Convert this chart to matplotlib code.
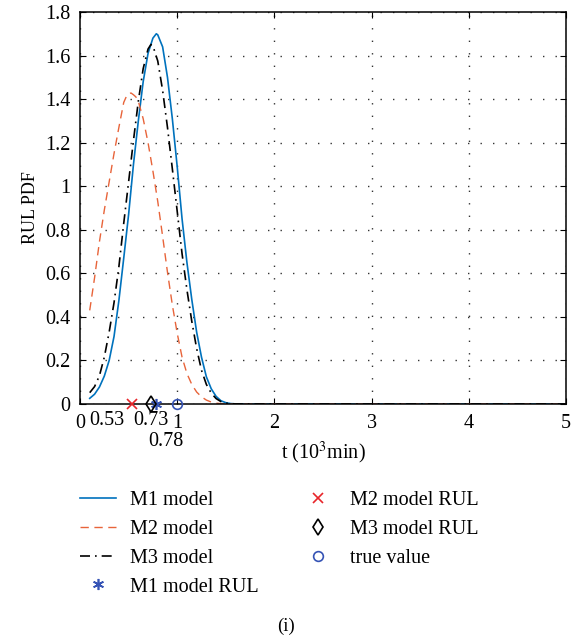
import matplotlib
matplotlib.use("Agg")
import matplotlib.pyplot as plt
import matplotlib.transforms as mtransforms

plt.rcParams['font.family'] = ['Liberation Serif', 'DejaVu Serif']
plt.rcParams['mathtext.fontset'] = 'stix'

# ---- data ----
t_m1 = [0.10, 0.15, 0.20, 0.25, 0.30, 0.35, 0.40, 0.45, 0.50, 0.55, 0.60, 0.65, 0.70, 0.75, 0.785,
        0.80, 0.85, 0.90, 0.95, 1.00, 1.05, 1.10, 1.15, 1.20, 1.25, 1.30, 1.35, 1.40, 1.45, 1.50,
        1.55, 1.60, 1.70, 5.00]
pdf_m1 = [0.026, 0.045, 0.078, 0.128, 0.20, 0.31, 0.475, 0.67, 0.87, 1.10, 1.30, 1.48, 1.61, 1.68, 1.70,
          1.695, 1.64, 1.50, 1.31, 1.09, 0.85, 0.65, 0.48, 0.33, 0.215, 0.125, 0.07, 0.035, 0.015, 0.006,
          0.002, 0.0005, 0.0, 0.0]

t_m2 = [0.10, 0.15, 0.20, 0.25, 0.30, 0.35, 0.40, 0.45, 0.475, 0.50, 0.525, 0.55, 0.575, 0.60, 0.65,
        0.70, 0.75, 0.80, 0.85, 0.90, 0.95, 1.00, 1.05, 1.10, 1.15, 1.20, 1.25, 1.30, 1.35, 1.40,
        1.45, 1.50, 1.60, 5.00]
pdf_m2 = [0.43, 0.58, 0.745, 0.89, 1.02, 1.15, 1.27, 1.385, 1.41, 1.425, 1.428, 1.42, 1.41, 1.39, 1.31,
          1.20, 1.07, 0.93, 0.77, 0.605, 0.455, 0.325, 0.215, 0.14, 0.09, 0.055, 0.033, 0.018, 0.009, 0.004,
          0.0015, 0.0005, 0.0, 0.0]

t_m3 = [0.10, 0.15, 0.20, 0.25, 0.30, 0.35, 0.40, 0.45, 0.50, 0.55, 0.60, 0.65, 0.70, 0.73, 0.75,
        0.80, 0.85, 0.90, 0.95, 1.00, 1.05, 1.10, 1.15, 1.20, 1.25, 1.30, 1.35, 1.40, 1.45, 1.50,
        1.55, 1.60, 1.70, 5.00]
pdf_m3 = [0.052, 0.08, 0.13, 0.215, 0.33, 0.465, 0.63, 0.83, 1.02, 1.21, 1.39, 1.54, 1.63, 1.651, 1.645,
          1.575, 1.44, 1.27, 1.08, 0.885, 0.69, 0.525, 0.38, 0.255, 0.155, 0.09, 0.05, 0.025, 0.011, 0.004,
          0.0015, 0.0004, 0.0, 0.0]

rul_m1 = 0.78
rul_m2 = 0.53
rul_m3 = 0.73
rul_true = 1.0

x_ticks = [0, 1, 2, 3, 4, 5]
x_tick_labels = ['0', '1', '2', '3', '4', '5']
y_ticks = [0, 0.2, 0.4, 0.6, 0.8, 1.0, 1.2, 1.4, 1.6, 1.8]
y_tick_labels = ['0', '0.2', '0.4', '0.6', '0.8', '1', '1.2', '1.4', '1.6', '1.8']
extra_lab = ['0.53', '0.73', '0.78']

# ---- styling ----
c_m1 = '#0072BD'
c_m2 = '#E8643A'
c_m3 = '#000000'
c_mark = '#3553B5'
c_x = '#E8252A'
fs = 14.5

fig = plt.figure(figsize=(5.73, 6.38), dpi=100)
ax = fig.add_axes([80/573, 1-404/638, 486/573, 392/638])

ax.plot(t_m1, pdf_m1, color=c_m1, lw=1.2, label='M1 model')
ax.plot(t_m2, pdf_m2, color=c_m2, lw=1.0, dashes=(6, 4), label='M2 model')
ax.plot(t_m3, pdf_m3, color=c_m3, lw=1.2, dashes=(6, 3, 1, 3), label='M3 model')

ax.plot([rul_m1], [0], linestyle='none', marker=(6, 2, 0), ms=8, mec=c_mark, mew=1.2, label='M1 model RUL', clip_on=False, zorder=5)
ax.plot([rul_m2], [0], linestyle='none', marker='x', ms=7, mec=c_x, mew=1.2, label='M2 model RUL', clip_on=False, zorder=5)
ax.plot([rul_m3], [0], linestyle='none', marker='d', ms=8, mfc='none', mec='black', mew=1.2, label='M3 model RUL', clip_on=False, zorder=5)
ax.plot([rul_true], [0], linestyle='none', marker='o', ms=7, mfc='none', mec=c_mark, mew=1.2, label='true value', clip_on=False, zorder=5)

ax.set_xlim(0, 5)
ax.set_ylim(0, 1.8)
ax.set_xticks(x_ticks)
ax.set_xticklabels(x_tick_labels)
ax.set_yticks(y_ticks)
ax.set_yticklabels(y_tick_labels)
ax.tick_params(direction='in', length=4, top=True, right=True, labelsize=fs, pad=7, width=0.8)
ax.grid(True, color='#333333', lw=1.0, linestyle=(0, (1, 8)))
for s in ax.spines.values():
    s.set_linewidth(1.1)

# extra RUL tick labels below the axis
trans = mtransforms.blended_transform_factory(ax.transData, ax.transAxes)
extra_x = [0.275, 0.725, 0.88]
extra_y = [-0.018, -0.018, -0.072]
for xx, lab, yy in zip(extra_x, extra_lab, extra_y):
    ax.text(xx, yy, lab, transform=trans, ha='center', va='top', fontsize=fs)

ax.set_xlabel('t (10$^3$min)', fontsize=fs, labelpad=5)
ax.set_ylabel('RUL PDF', fontsize=13, labelpad=4)

handles, labels = ax.get_legend_handles_labels()
fig.legend(handles, labels,
           loc='upper left', bbox_to_anchor=(62/573, 1-473/638), ncol=2, frameon=False,
           fontsize=fs, handlelength=1.8, handletextpad=0.7, columnspacing=2.0, labelspacing=0.48)

fig.text(0.5, 1-626/638, '(i)', ha='center', va='center', fontsize=fs-1)

fig.savefig('out.png', dpi=100)
